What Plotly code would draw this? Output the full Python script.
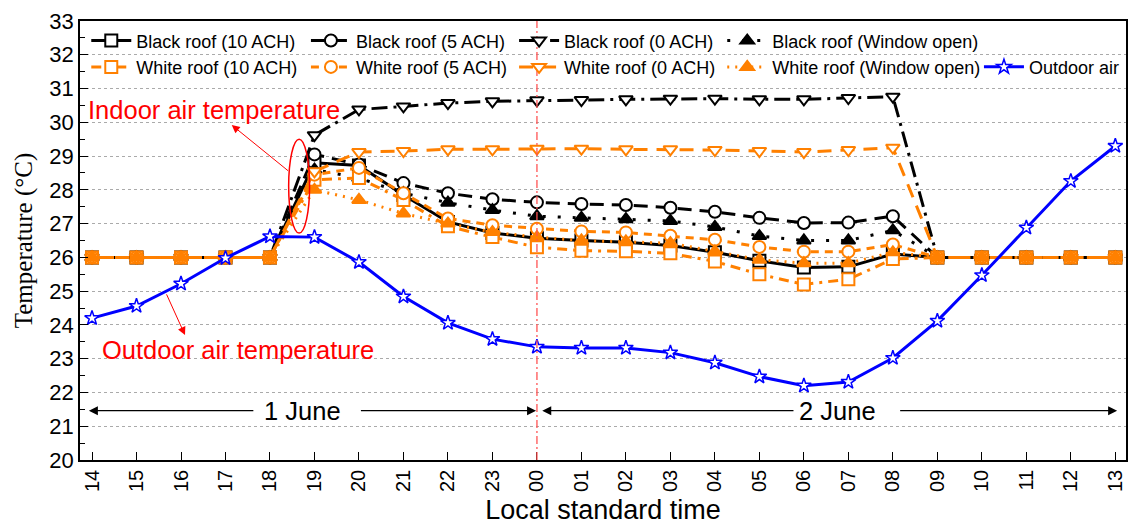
import plotly.graph_objects as go

hours = ["14", "15", "16", "17", "18", "19", "20", "21", "22", "23", "00", "01",
         "02", "03", "04", "05", "06", "07", "08", "09", "10", "11", "12", "13"]

black_10 = [26, 26, 26, 26, 26, 28.8, 28.72, 27.85, 27.05, 26.72, 26.57, 26.5,
            26.45, 26.35, 26.15, 25.9, 25.7, 25.72, 26.1, 26.0, 26, 26, 26, 26]
black_5 = [26, 26, 26, 26, 26, 29.05, 28.75, 28.2, 27.9, 27.72, 27.63, 27.58,
           27.55, 27.47, 27.35, 27.17, 27.02, 27.03, 27.22, 26.0, 26, 26, 26, 26]
black_0 = [26, 26, 26, 26, 26, 29.62, 30.38, 30.47, 30.57, 30.62, 30.65, 30.66,
           30.68, 30.7, 30.7, 30.68, 30.68, 30.72, 30.76, 26.0, 26, 26, 26, 26]
black_win = [26, 26, 26, 26, 26, 28.6, 28.35, 27.9, 27.62, 27.4, 27.22, 27.17,
             27.13, 27.08, 26.9, 26.63, 26.5, 26.5, 26.8, 26.0, 26, 26, 26, 26]
white_10 = [26, 26, 26, 26, 26, 28.3, 28.35, 27.7, 26.92, 26.6, 26.3, 26.2,
            26.18, 26.12, 25.88, 25.5, 25.2, 25.35, 25.95, 26.0, 26, 26, 26, 26]
white_5 = [26, 26, 26, 26, 26, 28.45, 28.65, 27.9, 27.15, 26.95, 26.85, 26.77,
           26.74, 26.64, 26.52, 26.31, 26.17, 26.17, 26.38, 26.0, 26, 26, 26, 26]
white_0 = [26, 26, 26, 26, 26, 28.55, 29.12, 29.15, 29.2, 29.2, 29.22, 29.22,
           29.2, 29.2, 29.18, 29.15, 29.12, 29.18, 29.25, 26.0, 26, 26, 26, 26]
white_win = [26, 26, 26, 26, 26, 28.0, 27.7, 27.3, 27.0, 26.75, 26.6, 26.5,
             26.47, 26.42, 26.18, 25.93, 25.83, 25.83, 26.15, 26.0, 26, 26, 26, 26]
outdoor = [24.2, 24.56, 25.22, 25.98, 26.62, 26.6, 25.86, 24.84, 24.06, 23.58, 23.35, 23.32,
           23.32, 23.18, 22.88, 22.47, 22.2, 22.31, 23.02, 24.12, 25.47, 26.88, 28.26, 29.3]

x = list(range(len(hours)))
ORANGE = "#FF8000"
BLUE = "#0000FF"

fig = go.Figure()

series = [
    ("Black roof (10 ACH)", black_10, "black", "solid", "square", "white", "legend"),
    ("Black roof (5 ACH)", black_5, "black", "14px,8px", "circle", "white", "legend2"),
    ("Black roof (0 ACH)", black_0, "black", "16px,6px,3px,6px", "triangle-down", "white", "legend3"),
    ("Black roof (Window open)", black_win, "black", "3px,12px", "triangle-up", "black", "legend4"),
    ("White roof (10 ACH)", white_10, ORANGE, "10px,6px,3px,6px", "square", "white", "legend"),
    ("White roof (5 ACH)", white_5, ORANGE, "8px,6px", "circle", "white", "legend2"),
    ("White roof (0 ACH)", white_0, ORANGE, "14px,9px", "triangle-down", "white", "legend3"),
    ("White roof (Window open)", white_win, ORANGE, "2px,6px", "triangle-up", ORANGE, "legend4"),
]
for name, ys, col, dash, sym, fill, lg in series:
    fig.add_trace(go.Scatter(
        x=x, y=ys, name=name, mode="lines+markers", legend=lg,
        line=dict(color=col, width=3, dash=dash),
        marker=dict(symbol=sym, size=12, color=fill, line=dict(color=col, width=2)),
    ))

fig.add_trace(go.Scatter(
    x=x, y=outdoor, name="Outdoor air", mode="lines+markers", legend="legend5",
    line=dict(color=BLUE, width=3),
    marker=dict(symbol="star", size=11, color="white", line=dict(color=BLUE, width=1.5)),
))

# red vertical separator at 00
fig.add_shape(type="line", x0=10, x1=10, y0=20, y1=33, xref="x", yref="y",
              line=dict(color="rgba(255,80,80,0.85)", width=1.5, dash="8px,3px,2px,3px"))
# ellipse around indoor rise
fig.add_shape(type="circle", x0=4.42, x1=4.89, y0=26.72, y1=29.5, xref="x", yref="y",
              line=dict(color="red", width=1.5))

annos = []
annos.append(dict(x=3.14, y=29.92, ax=4.44, ay=28.53, xref="x", yref="y", axref="x", ayref="y",
                  text="", showarrow=True, arrowhead=2, arrowsize=1.6, arrowwidth=1,
                  arrowcolor="red"))
annos.append(dict(x=2.74, y=30.36, xref="x", yref="y", text="Indoor air temperature",
                  showarrow=False, font=dict(color="red", size=25.5)))
annos.append(dict(x=2.09, y=23.70, ax=1.66, ay=24.95, xref="x", yref="y", axref="x", ayref="y",
                  text="", showarrow=True, arrowhead=2, arrowsize=1.6, arrowwidth=1,
                  arrowcolor="red"))
annos.append(dict(x=3.28, y=23.26, xref="x", yref="y", text="Outdoor air temperature",
                  showarrow=False, font=dict(color="red", size=25.5)))
ya = 21.46
for hx, tx in [(-0.07, 3.66), (9.98, 6.01), (10.12, 15.8), (23.04, 18.13)]:
    annos.append(dict(x=hx, y=ya, ax=tx, ay=ya, xref="x", yref="y", axref="x", ayref="y",
                      text="", showarrow=True, arrowhead=2, arrowsize=1.5, arrowwidth=1.2,
                      arrowcolor="black"))
annos.append(dict(x=4.73, y=ya, xref="x", yref="y", text="1 June", showarrow=False,
                  font=dict(color="black", size=25.5)))
annos.append(dict(x=16.76, y=ya, xref="x", yref="y", text="2 June", showarrow=False,
                  font=dict(color="black", size=25.5)))

def leg(xp, yp, xa="left"):
    return dict(orientation="v", x=xp, y=yp, xanchor=xa, yanchor="top",
                bgcolor="rgba(0,0,0,0)", font=dict(size=18), itemwidth=40,
                tracegroupgap=0)

fig.update_layout(
    width=1131, height=527,
    margin=dict(l=80, r=3, t=21, b=67),
    plot_bgcolor="white", paper_bgcolor="white",
    font=dict(family="Liberation Sans, Arial", color="black"),
    annotations=annos,
    legend=leg(0.006, 0.997),
    legend2=leg(0.216, 0.997),
    legend3=leg(0.415, 0.997),
    legend4=leg(0.614, 0.997),
    legend5=leg(0.999, 0.937, "right"),
)

fig.update_xaxes(
    range=[-0.27, 23.24], tickmode="array", tickvals=x, ticktext=hours,
    tickangle=-90, tickfont=dict(size=20),
    showline=True, linecolor="black", linewidth=1.5, mirror=True,
    ticks="inside", ticklen=8, tickcolor="black", showgrid=False, zeroline=False,
    title=dict(text="Local standard time", font=dict(size=27), standoff=9),
)
fig.update_yaxes(
    range=[20, 33], dtick=1, tickfont=dict(size=22),
    showline=True, linecolor="black", linewidth=1.5, mirror=True,
    ticks="inside", ticklen=8, tickcolor="black",
    minor=dict(ticks="inside", ticklen=5, dtick=0.5, tickcolor="black"),
    showgrid=True, gridcolor="#aaaaaa", griddash="dot", gridwidth=1, zeroline=False,
    title=dict(text="Temperature (°C)", font=dict(family="Liberation Serif, Times New Roman", size=25),
               standoff=10),
)

fig.write_html("out.html")
